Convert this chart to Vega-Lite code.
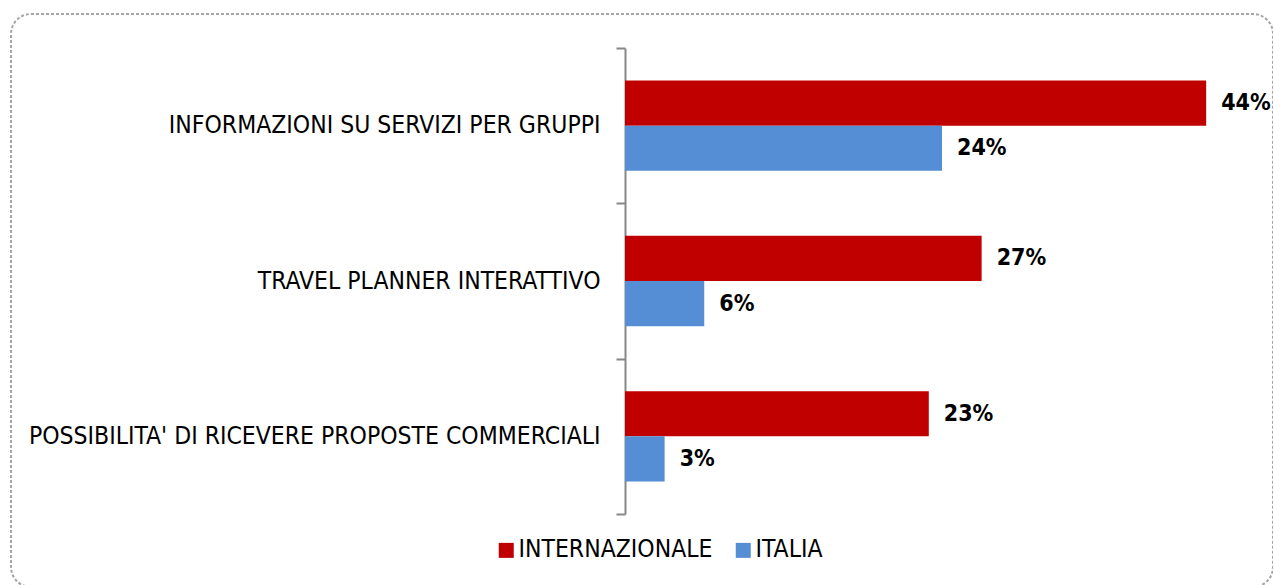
{
  "$schema": "https://vega.github.io/schema/vega-lite/v6.json",
  "width": 1262,
  "height": 573,
  "autosize": "none",
  "padding": {"left": 11, "top": 14, "right": 0, "bottom": 0},
  "background": "white",
  "config": {
    "font": "DejaVu Sans Condensed",
    "view": {"stroke": "#a6a6a6", "strokeDash": [3, 2], "strokeWidth": 2, "cornerRadius": 20}
  },
  "data": {
    "values": [
      {"item": "INFORMAZIONI SU SERVIZI PER GRUPPI", "series": "INTERNAZIONALE", "value": 0.44},
      {"item": "INFORMAZIONI SU SERVIZI PER GRUPPI", "series": "ITALIA", "value": 0.24},
      {"item": "TRAVEL PLANNER INTERATTIVO", "series": "INTERNAZIONALE", "value": 0.27},
      {"item": "TRAVEL PLANNER INTERATTIVO", "series": "ITALIA", "value": 0.06},
      {"item": "POSSIBILITA' DI RICEVERE PROPOSTE COMMERCIALI", "series": "INTERNAZIONALE", "value": 0.23},
      {"item": "POSSIBILITA' DI RICEVERE PROPOSTE COMMERCIALI", "series": "ITALIA", "value": 0.03}
    ]
  },
  "encoding": {
    "y": {
      "field": "item",
      "type": "nominal",
      "sort": ["INFORMAZIONI SU SERVIZI PER GRUPPI", "TRAVEL PLANNER INTERATTIVO", "POSSIBILITA' DI RICEVERE PROPOSTE COMMERCIALI"],
      "scale": {"range": [34, 500], "paddingInner": 0, "paddingOuter": 0},
      "axis": {
        "title": null,
        "offset": -614,
        "domainColor": "#878787",
        "domainWidth": 2,
        "tickColor": "#878787",
        "tickWidth": 2,
        "tickSize": 9,
        "tickBand": "extent",
        "labelPadding": 16,
        "labelFontSize": 24.5,
        "labelColor": "#000000",
        "labelLimit": 0
      }
    },
    "yOffset": {
      "field": "series",
      "type": "nominal",
      "sort": ["INTERNAZIONALE", "ITALIA"],
      "scale": {"paddingOuter": 0.72, "paddingInner": 0}
    },
    "x": {
      "field": "value",
      "type": "quantitative",
      "scale": {"domain": [0, 0.48], "range": [614, 1248]},
      "axis": null
    }
  },
  "layer": [
    {
      "mark": {"type": "bar"},
      "encoding": {
        "color": {
          "field": "series",
          "type": "nominal",
          "sort": ["INTERNAZIONALE", "ITALIA"],
          "scale": {"domain": ["INTERNAZIONALE", "ITALIA"], "range": ["#C00000", "#558ED5"]},
          "legend": {
            "title": null,
            "orient": "none",
            "direction": "horizontal",
            "legendX": 483,
            "legendY": 524,
            "symbolType": "square",
            "symbolSize": 225,
            "symbolStrokeWidth": 0,
            "labelFontSize": 24.5,
            "labelColor": "#000000",
            "labelOffset": 0,
            "columnPadding": 18,
            "padding": 0,
            "labelLimit": 0
          }
        }
      }
    },
    {
      "mark": {"type": "text", "align": "left", "baseline": "middle", "dx": 15, "fontSize": 23, "fontWeight": "bold", "color": "#000000"},
      "encoding": {
        "text": {"field": "value", "type": "quantitative", "format": ".0%"}
      }
    }
  ]
}
